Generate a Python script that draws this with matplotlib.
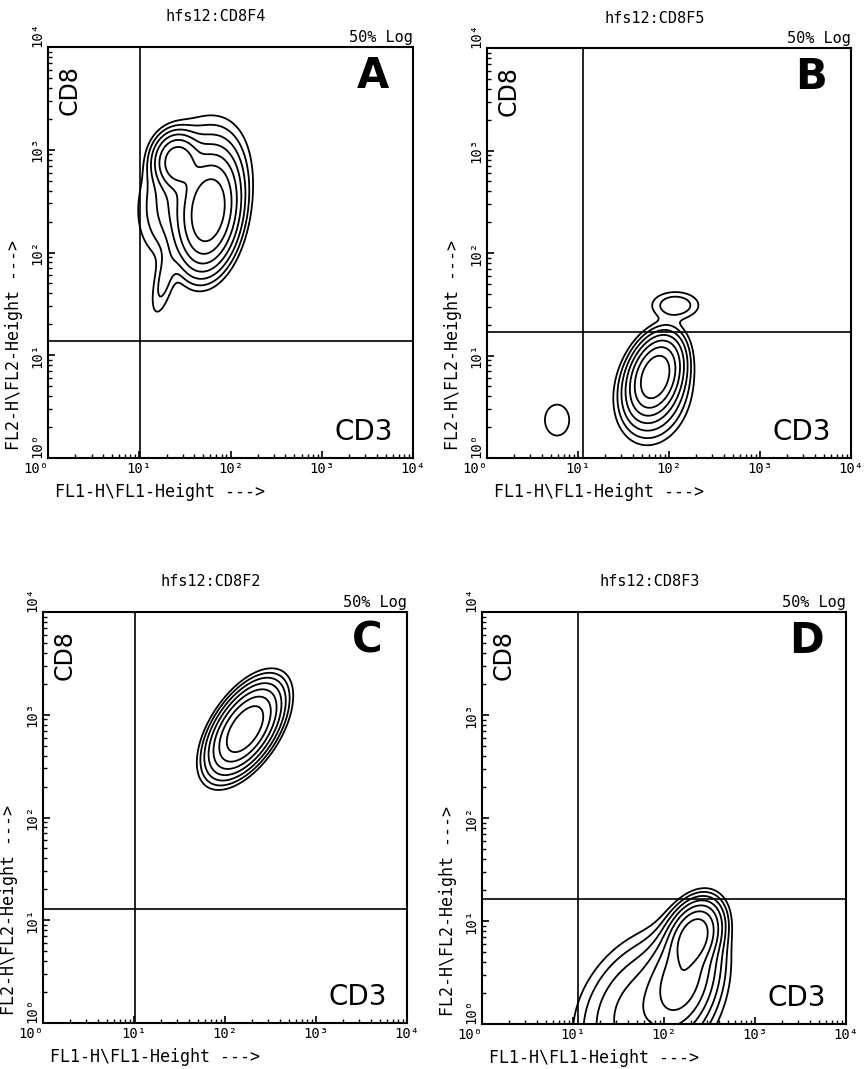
import numpy as np
import matplotlib
matplotlib.use("Agg")
import matplotlib.pyplot as plt
from matplotlib.ticker import LogLocator, NullFormatter, FixedLocator

# ---------------- data ----------------
panel_titles = ["hfs12:CD8F4", "hfs12:CD8F5", "hfs12:CD8F2", "hfs12:CD8F3"]
panel_letters = ["A", "B", "C", "D"]
tick_values = [1, 10, 100, 1000, 10000]
tick_labels = ["10⁰", "10¹", "10²", "10³", "10⁴"]
x_label = "FL1-H\\FL1-Height --->"
y_label = "FL2-H\\FL2-Height --->"
quad_upper = "CD8"
quad_lower = "CD3"
contour_note = "50% Log"

# quadrant gate positions (channel values)
gate_x = [10.2, 11.4, 10.2, 11.3]
gate_y = [13.8, 17.0, 12.8, 16.2]

# population components per panel:
# log10 centre FL1, log10 centre FL2, sd FL1, sd FL2 (decades), correlation, relative weight
A_cx = [1.76, 1.42, 1.58, 1.27]
A_cy = [2.40, 2.88, 2.62, 1.72]
A_sx = [0.15, 0.12, 0.27, 0.09]
A_sy = [0.25, 0.13, 0.32, 0.22]
A_r = [0.2, 0.0, 0.3, 0.6]
A_w = [1.0, 0.45, 0.09, 0.02]

B_cx = [1.85, 1.83, 2.07, 0.77]
B_cy = [0.80, 0.64, 1.49, 0.37]
B_sx = [0.13, 0.19, 0.163, 0.15]
B_sy = [0.17, 0.23, 0.083, 0.17]
B_r = [0.3, 0.15, 0.0, 0.0]
B_w = [1.0, 0.10, 0.028, 0.0125]

C_cx = [2.22]
C_cy = [2.86]
C_sx = [0.17]
C_sy = [0.19]
C_r = [0.55]
C_w = [1.0]

D_cx = [2.33, 2.20, 1.82]
D_cy = [0.85, 0.45, 0.15]
D_sx = [0.13, 0.18, 0.36]
D_sy = [0.15, 0.25, 0.35]
D_r = [0.3, 0.3, 0.3]
D_w = [1.0, 0.45, 0.12]

components = [
    (A_cx, A_cy, A_sx, A_sy, A_r, A_w),
    (B_cx, B_cy, B_sx, B_sy, B_r, B_w),
    (C_cx, C_cy, C_sx, C_sy, C_r, C_w),
    (D_cx, D_cy, D_sx, D_sy, D_r, D_w),
]
# contour levels: 50% logarithmic steps relative to the peak
level_fracs = [1/128, 1/64, 1/32, 1/16, 1/8, 1/4, 1/2]

# ---------------- layout ----------------
W, H = 867, 1069
boxes = [  # left, top, right, bottom in pixels
    (48, 47, 413, 458),
    (487, 48, 851, 458),
    (43, 612, 407, 1023),
    (482, 612, 846, 1024),
]

mono = ["DejaVu Sans Mono", "DejaVu Sans"]
sans = ["DejaVu Sans"]

fig = plt.figure(figsize=(W / 100, H / 100), dpi=100)
fig.patch.set_facecolor("white")

u = np.linspace(-0.8, 4.2, 500)
U, V = np.meshgrid(u, u)

for i, (l, t, r, b) in enumerate(boxes):
    ax = fig.add_axes([l / W, 1 - b / H, (r - l) / W, (b - t) / H])
    ax.set_xscale("log")
    ax.set_yscale("log")
    ax.set_xlim(1, 1e4)
    ax.set_ylim(1, 1e4)

    cx, cy, sx, sy, rho, w = components[i]
    Z = np.zeros_like(U)
    for k in range(len(cx)):
        dx = (U - cx[k]) / sx[k]
        dy = (V - cy[k]) / sy[k]
        q = (dx * dx + dy * dy - 2 * rho[k] * dx * dy) / (1 - rho[k] ** 2)
        Z += w[k] * np.exp(-0.5 * q)
    levels = [f * Z.max() for f in level_fracs]
    ax.contour(10 ** U, 10 ** V, Z, levels=levels, colors="black",
               linewidths=1.3)

    ax.axvline(gate_x[i], color="black", lw=1.2)
    ax.axhline(gate_y[i], color="black", lw=1.2)

    for s in ax.spines.values():
        s.set_linewidth(1.5)

    ax.xaxis.set_major_locator(FixedLocator(tick_values))
    ax.yaxis.set_major_locator(FixedLocator(tick_values))
    ax.xaxis.set_minor_locator(LogLocator(base=10, subs=np.arange(2, 10)))
    ax.yaxis.set_minor_locator(LogLocator(base=10, subs=np.arange(2, 10)))
    ax.xaxis.set_minor_formatter(NullFormatter())
    ax.yaxis.set_minor_formatter(NullFormatter())
    xl = ax.set_xticklabels(tick_labels, fontfamily=mono, fontsize=10)
    yl = ax.set_yticklabels(tick_labels, fontfamily=mono, fontsize=10,
                            rotation=90, va="center")
    xl[0].set_ha("right")
    yl[0].set_va("bottom")
    yl[-1].set_va("bottom")
    ax.tick_params(which="major", direction="in", length=5, width=1.2, pad=3)
    ax.tick_params(which="minor", direction="in", length=3, width=1.0)

    ax.text(0.46, 1.073, panel_titles[i], transform=ax.transAxes,
            ha="center", va="center", fontfamily=mono, fontsize=11)
    ax.text(1.0, 1.024, contour_note, transform=ax.transAxes,
            ha="right", va="center", fontfamily=mono, fontsize=11)
    ax.text(0.06, 0.895, quad_upper, transform=ax.transAxes, rotation=90,
            ha="center", va="center", fontfamily=sans, fontsize=17)
    ax.text(0.865, 0.063, quad_lower, transform=ax.transAxes,
            ha="center", va="center", fontfamily=sans, fontsize=20)
    ax.text(0.89, 0.93, panel_letters[i], transform=ax.transAxes,
            ha="center", va="center", fontfamily=sans, fontsize=30,
            fontweight="bold")
    ax.text(0.02, -0.083, x_label, transform=ax.transAxes,
            ha="left", va="center", fontfamily=mono, fontsize=12)
    ax.text(-0.093, 0.02, y_label, transform=ax.transAxes, rotation=90,
            ha="center", va="bottom", fontfamily=mono, fontsize=12)

fig.savefig("out.png", dpi=100, facecolor="white")
